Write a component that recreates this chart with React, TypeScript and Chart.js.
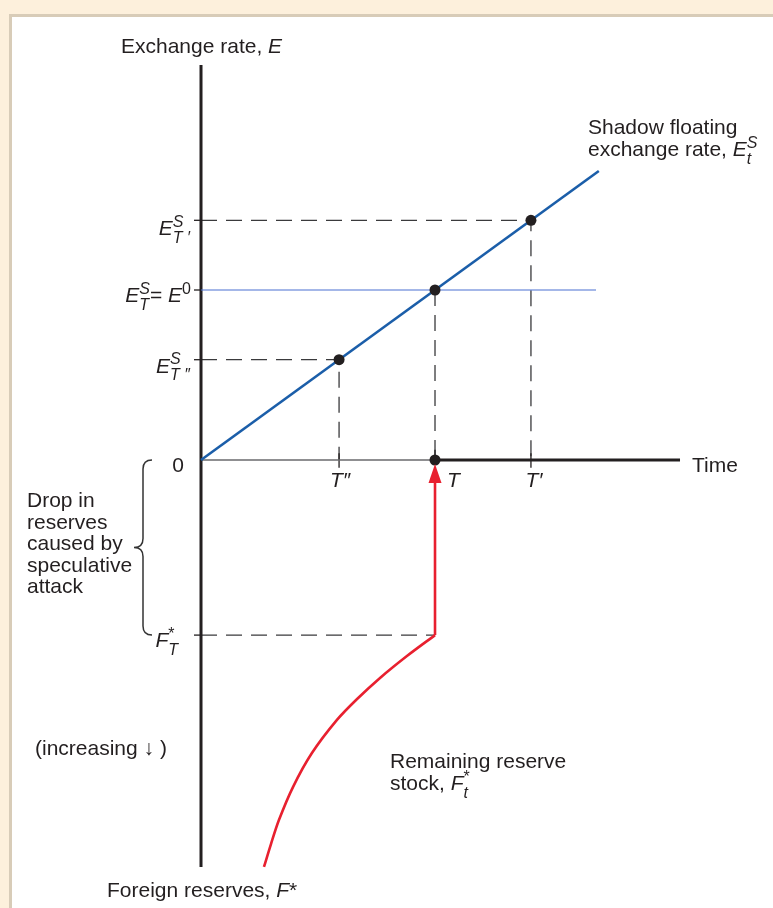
import React, { useEffect, useRef } from "react";
import { Chart, registerables } from "chart.js";

Chart.register(...registerables);

// ---- data (time units on x, exchange rate above 0 / reserves below 0 on y) ----
const timeMarks = [5.9, 10, 14.1]; // T'', T, T'
const timeMarkLabels = ["T\u2033", "T", "T\u2032"];
const shadowRateMarks = [5.9, 10, 14.1]; // E^S_T'', E^S_T = E^0, E^S_T'
const shadowLineTime = [0, 17];
const shadowLineRate = [0, 17];
const pegRate = 10;
const pegLineEndTime = 16.88;
const attackTime = 10;
const attackReserve = -10.3; // F*_T
const reserveCurveTime = [10.0, 8.8, 7.65, 6.67, 5.81, 4.74, 3.93, 3.33, 2.99, 2.69];
const reserveCurveLevel = [-10.3, -11.53, -12.82, -14.06, -15.29, -17.24, -19.24, -21.18, -22.59, -23.94];
const axisTimeEnd = 20.47;
const axisRateTop = 23.24;
const axisReserveBottom = -23.94;
const dropLabelLines = ["Drop in", "reserves", "caused by", "speculative", "attack"];

// ---- view window ----
const X_MIN = -8.59;
const X_MAX = 24.444;
const Y_MIN = -26.353;
const Y_MAX = 27.059;

const FONT = '"Liberation Sans", Arial, Helvetica, sans-serif';
const INK = "#231f20";
const DASH_COL = "#3a3a3c";
const BLUE = "#1b5ea9";
const RED = "#e8202f";
const BASE = 21;

type Seg = { t: string; i?: boolean; p?: "sup" | "sub"; stack?: boolean };

function drawRich(
  ctx: CanvasRenderingContext2D,
  segs: Seg[],
  x: number,
  y: number,
  align: "left" | "right" | "center",
  size = BASE
) {
  const small = 16;
  const font = (s: Seg) => `${s.i ? "italic " : ""}${s.p ? small : size}px ${FONT}`;
  let cx = 0;
  let prevStart = 0;
  let prevEnd = 0;
  const placed: { s: Seg; start: number }[] = [];
  for (const s of segs) {
    ctx.font = font(s);
    const w = ctx.measureText(s.t).width;
    const start = s.stack ? prevStart : cx;
    const end = start + w;
    if (s.stack) {
      cx = Math.max(prevEnd, end);
      prevEnd = cx;
    } else {
      cx = end;
      prevStart = start;
      prevEnd = end;
    }
    placed.push({ s, start });
  }
  const ox = align === "left" ? x : align === "right" ? x - cx : x - cx / 2;
  for (const { s, start } of placed) {
    ctx.font = font(s);
    const dy = s.p === "sup" ? -8.5 : s.p === "sub" ? 7.5 : 0;
    ctx.fillText(s.t, ox + start, y + dy);
  }
}

const diagramPlugin = {
  id: "diagram",
  beforeDraw(chart: any) {
    const ctx: CanvasRenderingContext2D = chart.ctx;
    const w = chart.width;
    const h = chart.height;
    ctx.save();
    ctx.fillStyle = "#fdf0dc";
    ctx.fillRect(0, 0, w, h);
    ctx.fillStyle = "#d8ccb8";
    ctx.fillRect(9, 14, w - 9, h - 14);
    ctx.fillStyle = "#ffffff";
    ctx.fillRect(12, 17, w - 12, h - 17);
    ctx.restore();
  },
  afterDatasetsDraw(chart: any) {
    const ctx: CanvasRenderingContext2D = chart.ctx;
    const xs = chart.scales.x;
    const ys = chart.scales.y;
    const X = (t: number) => xs.getPixelForValue(t);
    const Y = (v: number) => ys.getPixelForValue(v);
    const ax = X(0);
    const ay = Y(0);
    ctx.save();

    // arrow head of the speculative attack
    const tipX = X(attackTime);
    ctx.fillStyle = RED;
    ctx.beginPath();
    ctx.moveTo(tipX, ay + 4);
    ctx.lineTo(tipX - 6.5, ay + 23);
    ctx.lineTo(tipX + 6.5, ay + 23);
    ctx.closePath();
    ctx.fill();

    // brace
    const by0 = ay;
    const by1 = Y(attackReserve);
    const bm = (by0 + by1) / 2;
    ctx.strokeStyle = "#333333";
    ctx.lineWidth = 1.5;
    ctx.beginPath();
    ctx.moveTo(152, by0);
    ctx.quadraticCurveTo(143, by0, 143, by0 + 9);
    ctx.lineTo(143, bm - 9);
    ctx.quadraticCurveTo(143, bm, 134, bm);
    ctx.quadraticCurveTo(143, bm, 143, bm + 9);
    ctx.lineTo(143, by1 - 9);
    ctx.quadraticCurveTo(143, by1, 152, by1);
    ctx.stroke();

    // texts
    ctx.fillStyle = INK;
    ctx.textBaseline = "alphabetic";
    drawRich(ctx, [{ t: "Exchange rate, " }, { t: "E", i: true }], 121, 53, "left");
    drawRich(ctx, [{ t: "Shadow floating" }], 588, 134, "left");
    drawRich(
      ctx,
      [
        { t: "exchange rate, " },
        { t: "E", i: true },
        { t: "S", i: true, p: "sup" },
        { t: "t", i: true, p: "sub", stack: true },
      ],
      588,
      156,
      "left"
    );

    // y-axis labels
    drawRich(
      ctx,
      [{ t: "E", i: true }, { t: "S", i: true, p: "sup" }, { t: "T \u2032", i: true, p: "sub", stack: true }],
      ax - 11,
      Y(shadowRateMarks[2]) + 15,
      "right"
    );
    drawRich(
      ctx,
      [
        { t: "E", i: true },
        { t: "S", i: true, p: "sup" },
        { t: "T", i: true, p: "sub", stack: true },
        { t: "= " },
        { t: "E", i: true },
        { t: "0", p: "sup" },
      ],
      ax - 10,
      Y(pegRate) + 12,
      "right"
    );
    drawRich(
      ctx,
      [{ t: "E", i: true }, { t: "S", i: true, p: "sup" }, { t: "T \u2033", i: true, p: "sub", stack: true }],
      ax - 11,
      Y(shadowRateMarks[0]) + 13,
      "right"
    );
    drawRich(ctx, [{ t: "0" }], ax - 17, ay + 12, "right");
    drawRich(
      ctx,
      [{ t: "F", i: true }, { t: "*", p: "sup" }, { t: "T", i: true, p: "sub", stack: true }],
      ax - 23,
      Y(attackReserve) + 12,
      "right"
    );

    // x-axis labels
    drawRich(ctx, [{ t: timeMarkLabels[0], i: true }], X(timeMarks[0]) + 1, ay + 27, "center");
    drawRich(ctx, [{ t: timeMarkLabels[1], i: true }], X(timeMarks[1]) + 12, ay + 27, "left");
    drawRich(ctx, [{ t: timeMarkLabels[2], i: true }], X(timeMarks[2]) + 3, ay + 27, "center");
    drawRich(ctx, [{ t: "Time" }], X(axisTimeEnd) + 12, ay + 12, "left");

    // left annotations
    dropLabelLines.forEach((s, k) => {
      drawRich(ctx, [{ t: s }], 27, 507 + k * 21.6, "left");
    });
    drawRich(ctx, [{ t: "(increasing \u2193 )" }], 35, 755, "left");

    drawRich(ctx, [{ t: "Remaining reserve" }], 390, 768, "left");
    drawRich(
      ctx,
      [
        { t: "stock, " },
        { t: "F", i: true },
        { t: "*", p: "sup" },
        { t: "t", i: true, p: "sub", stack: true },
      ],
      390,
      790,
      "left"
    );
    drawRich(ctx, [{ t: "Foreign reserves, " }, { t: "F", i: true }, { t: "*" }], 107, 897, "left");

    ctx.restore();
  },
};

function seg(pts: { x: number; y: number }[], color: string, width: number, dash: number[] = [], tension = 0) {
  return {
    data: pts,
    showLine: true,
    borderColor: color,
    backgroundColor: color,
    borderWidth: width,
    borderDash: dash,
    pointRadius: 0,
    pointHoverRadius: 0,
    fill: false,
    tension,
    clip: false as any,
  };
}

export default function App() {
  const ref = useRef<HTMLCanvasElement>(null);

  useEffect(() => {
    document.body.style.margin = "0";
    const canvas = ref.current;
    if (!canvas) return;

    const DASH = [16, 9];
    const dots = {
      data: [
        ...timeMarks.map((t, k) => ({ x: t, y: shadowRateMarks[k] })),
        { x: attackTime, y: 0 },
      ],
      showLine: false,
      pointRadius: 5.5,
      pointHoverRadius: 5.5,
      pointBackgroundColor: INK,
      pointBorderWidth: 0,
      clip: false as any,
    };

    const datasets: any[] = [
      dots,
      seg([{ x: attackTime, y: attackReserve }, { x: attackTime, y: -1.2 }], RED, 2.6),
      seg(
        reserveCurveTime.map((t, k) => ({ x: t, y: reserveCurveLevel[k] })),
        RED,
        2.6,
        [],
        0.3
      ),
      seg(shadowLineTime.map((t, k) => ({ x: t, y: shadowLineRate[k] })), BLUE, 2.6),
      seg([{ x: 0, y: pegRate }, { x: pegLineEndTime, y: pegRate }], "#4a70d2", 1.2),
      seg([{ x: 0, y: axisRateTop }, { x: 0, y: axisReserveBottom }], INK, 3),
      seg([{ x: attackTime, y: 0 }, { x: axisTimeEnd, y: 0 }], INK, 3.2),
      seg([{ x: 0, y: 0 }, { x: attackTime, y: 0 }], "#6a6a6c", 1.6),
      // axis ticks
      ...[...shadowRateMarks, attackReserve].map((v) =>
        seg([{ x: -0.3, y: v }, { x: 0, y: v }], INK, 1.3)
      ),
      seg([{ x: timeMarks[0], y: 0.4 }, { x: timeMarks[0], y: -0.45 }], INK, 1.3),
      seg([{ x: timeMarks[2], y: 0.4 }, { x: timeMarks[2], y: -0.45 }], INK, 1.3),
      seg([{ x: timeMarks[1], y: 0.6 }, { x: timeMarks[1], y: 0 }], INK, 1.3),
      // dashed guides
      seg(
        [
          { x: 0, y: shadowRateMarks[2] },
          { x: timeMarks[2], y: shadowRateMarks[2] },
          { x: timeMarks[2], y: 0 },
        ],
        DASH_COL,
        1.3,
        DASH
      ),
      seg(
        [
          { x: 0, y: shadowRateMarks[0] },
          { x: timeMarks[0], y: shadowRateMarks[0] },
          { x: timeMarks[0], y: 0 },
        ],
        DASH_COL,
        1.3,
        DASH
      ),
      seg([{ x: timeMarks[1], y: shadowRateMarks[1] }, { x: timeMarks[1], y: 0 }], DASH_COL, 1.3, DASH),
      seg([{ x: 0, y: attackReserve }, { x: attackTime, y: attackReserve }], DASH_COL, 1.3, DASH),
    ];

    const chart = new Chart(canvas, {
      type: "scatter",
      data: { datasets },
      options: {
        responsive: false,
        maintainAspectRatio: false,
        animation: false,
        devicePixelRatio: 1,
        layout: { padding: 0, autoPadding: false },
        events: [],
        plugins: {
          legend: { display: false },
          tooltip: { enabled: false },
        },
        elements: { line: { borderCapStyle: "butt" } },
        scales: {
          x: { type: "linear", min: X_MIN, max: X_MAX, display: false },
          y: { type: "linear", min: Y_MIN, max: Y_MAX, display: false },
        },
      },
      plugins: [diagramPlugin],
    } as any);

    return () => chart.destroy();
  }, []);

  return (
    <div style={{ width: 773, height: 908 }}>
      <canvas ref={ref} width={773} height={908} style={{ display: "block", width: 773, height: 908 }} />
    </div>
  );
}
